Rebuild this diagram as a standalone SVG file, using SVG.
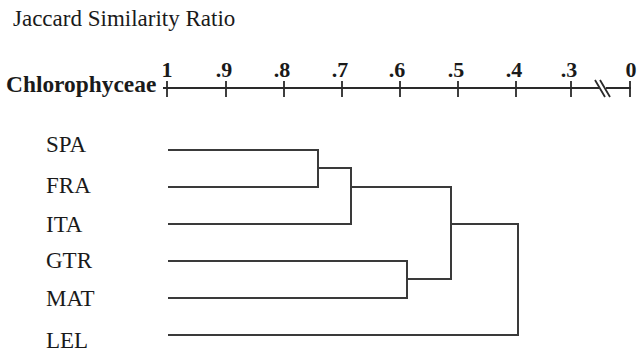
<svg xmlns="http://www.w3.org/2000/svg" width="643" height="355" viewBox="0 0 643 355">
<style>
text{font-family:"Liberation Serif","Times New Roman",serif;fill:#1a1a1a}
.title{font-size:23px}
.axlab{font-size:23.4px;font-weight:bold}
.tick{font-size:22px;font-weight:bold;text-anchor:middle}
.leaf{font-size:23px}
.ln{stroke:#3a3a3a;stroke-width:2;fill:none}
.ax{stroke:#2a2a2a;stroke-width:1.8;fill:none}
</style>
<rect width="643" height="355" fill="#fff"/>
<text class="title" x="13" y="26">Jaccard Similarity Ratio</text>
<g id="axis">
<text class="axlab" x="6" y="92">Chlorophyceae</text>
<path class="ax" d="M163 88H599M606 88H631"/>
<path class="ax" d="M167 81V97M226 81V97M284 81V97M342 81V97M400 81V97M458 81V97M516 81V97M571 81V97M630 81V97"/>
<path class="ax" d="M595 80L605 97M600 80L610 97"/>
<text class="tick" x="167" y="77">1</text>
<text class="tick" x="224" y="77">.9</text>
<text class="tick" x="282" y="77">.8</text>
<text class="tick" x="340" y="77">.7</text>
<text class="tick" x="397" y="77">.6</text>
<text class="tick" x="456" y="77">.5</text>
<text class="tick" x="514" y="77">.4</text>
<text class="tick" x="569" y="77">.3</text>
<text class="tick" x="631" y="77">0</text>
</g>
<g id="SPA"><text class="leaf" x="46" y="152">SPA</text></g>
<g id="FRA"><text class="leaf" x="46" y="193">FRA</text></g>
<g id="ITA"><text class="leaf" x="46" y="232">ITA</text></g>
<g id="GTR"><text class="leaf" x="46" y="268">GTR</text></g>
<g id="MAT"><text class="leaf" x="46" y="306">MAT</text></g>
<g id="LEL"><text class="leaf" x="46" y="348">LEL</text></g>
<g id="connectors">
<path class="ln" d="M168 150H318V187H168"/>
<path class="ln" d="M318 168H351V224H168"/>
<path class="ln" d="M168 261H407V298H168"/>
<path class="ln" d="M351 187H451V279H407"/>
<path class="ln" d="M451 224H518V335H168"/>
</g>
</svg>
